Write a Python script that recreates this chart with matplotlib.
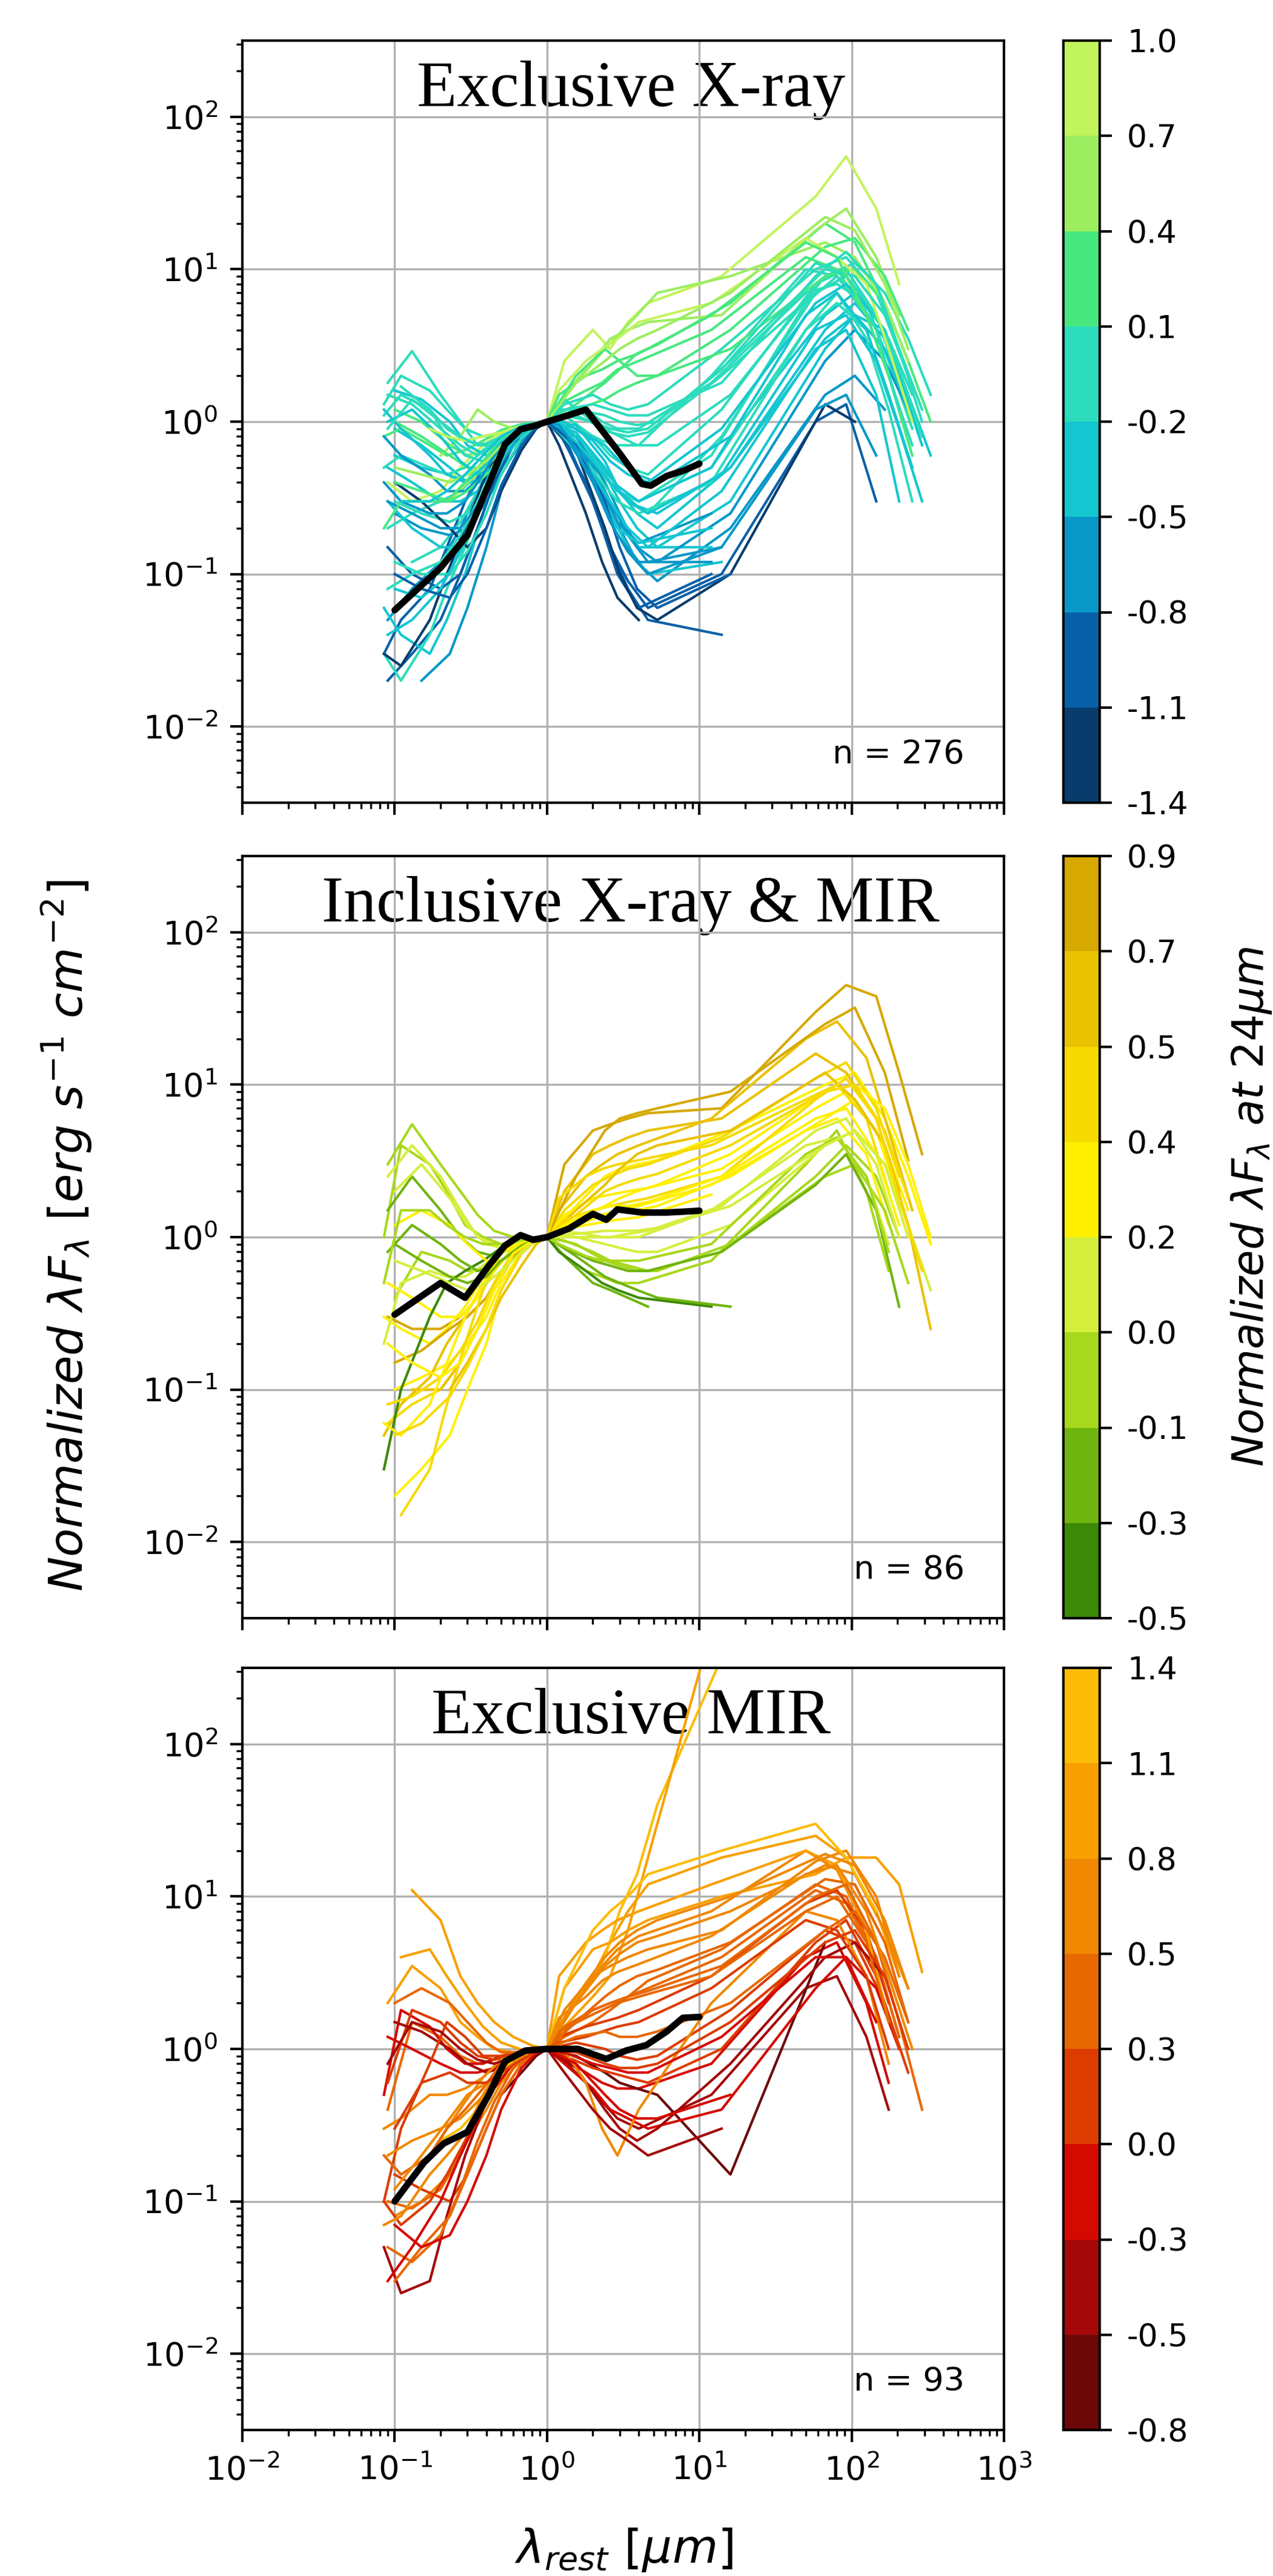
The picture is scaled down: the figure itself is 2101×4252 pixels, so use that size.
import numpy as np
import matplotlib
matplotlib.use("Agg")
import matplotlib.pyplot as plt
from matplotlib.colors import ListedColormap, BoundaryNorm
from matplotlib.cm import ScalarMappable

# rest-frame wavelength grids [um] (three typical redshifts)
lam_a = [0.09, 0.13, 0.2, 0.27, 0.35, 0.45, 0.6, 0.8, 1.0, 1.3, 2.0, 2.6, 3.4, 4.6, 14, 58, 92, 145, 205, 290]
lam_b = [0.1, 0.15, 0.23, 0.3, 0.4, 0.5, 0.68, 0.85, 1.0, 1.55, 2.4, 3.0, 3.9, 5.3, 16, 67, 105, 165, 235, 330]
lam_c = [0.085, 0.11, 0.17, 0.22, 0.29, 0.38, 0.5, 0.7, 1.0, 1.2, 1.8, 2.3, 2.9, 4.0, 12, 50, 80, 125, 175, 250]
grids = {"a": lam_a, "b": lam_b, "c": lam_c}

# (colour value, grid, first index, normalised fluxes)
xray_seds = [
    (-0.05, "a", 0, [1.8, 2.9, 1.5, 1.0, 0.7, 0.75, 0.85, 0.95, 1.0, 1.1, 0.8, 0.6, 0.5, 0.45, 1.2, 8, 10, 5, 2, 0.8]),
    (-0.35, "b", 0, [0.6, 0.5, 0.45, 0.4, 0.42, 0.55, 0.8, 0.95, 1.0, 0.95, 0.55, 0.35, 0.25, 0.2, 0.5, 4, 6, 3.5, 1.5, 0.6]),
    (-0.65, "a", 0, [0.05, 0.08, 0.12, 0.2, 0.35, 0.55, 0.8, 0.95, 1.0, 0.9, 0.5, 0.3, 0.18, 0.12, 0.15]),
    (-0.95, "c", 0, [0.03, 0.05, 0.08, 0.15, 0.3, 0.5, 0.75, 0.92, 1.0, 0.85, 0.4, 0.2, 0.1, 0.06, 0.1]),
    (0.25, "b", 0, [1.2, 1.0, 0.7, 0.6, 0.65, 0.8, 0.9, 0.97, 1.0, 1.3, 1.8, 2.2, 2.8, 3.2, 6, 20, 15, 6, 2.5]),
    (0.85, "a", 0, [0.4, 0.3, 0.35, 0.5, 0.65, 0.8, 0.9, 0.97, 1.0, 2.5, 4, 3, 4.5, 6, 9, 30, 55, 25, 8]),
    (-0.05, "c", 0, [1.3, 2.0, 1.6, 1.2, 0.9, 0.8, 0.85, 0.95, 1.0, 0.9, 0.6, 0.45, 0.35, 0.3, 0.6, 6, 9, 6, 2.5, 0.9]),
    (-0.05, "b", 0, [0.3, 0.25, 0.22, 0.25, 0.35, 0.55, 0.8, 0.95, 1.0, 1.1, 0.9, 0.8, 0.7, 0.7, 1.5, 9, 11, 7, 3.5, 1.5]),
    (-0.95, "a", 0, [0.02, 0.03, 0.05, 0.1, 0.2, 0.4, 0.7, 0.9, 1.0, 0.75, 0.3, 0.15, 0.08, 0.05, 0.04]),
    (-0.35, "b", 0, [0.9, 0.7, 0.5, 0.4, 0.4, 0.5, 0.7, 0.9, 1.0, 0.8, 0.45, 0.3, 0.2, 0.15, 0.3, 3, 5, 4, 1.5]),
    (-0.05, "c", 0, [0.5, 0.6, 0.5, 0.45, 0.5, 0.65, 0.8, 0.95, 1.0, 1.0, 0.85, 0.75, 0.7, 0.7, 2, 10, 9, 5, 2, 0.7]),
    (-0.05, "a", 1, [0.12, 0.15, 0.22, 0.35, 0.5, 0.75, 0.93, 1.0, 0.95, 0.6, 0.4, 0.3, 0.25, 0.8, 7, 9, 5, 1.8]),
    (0.25, "c", 0, [0.8, 0.9, 0.7, 0.6, 0.65, 0.75, 0.88, 0.97, 1.0, 1.3, 1.6, 1.8, 2.2, 2.5, 4, 12, 10, 5, 2, 0.6]),
    (-0.65, "b", 0, [0.25, 0.2, 0.18, 0.2, 0.3, 0.45, 0.75, 0.93, 1.0, 0.7, 0.35, 0.2, 0.12, 0.09, 0.2, 1.5, 2, 1.2]),
    (-0.35, "c", 0, [0.06, 0.04, 0.03, 0.05, 0.1, 0.25, 0.55, 0.88, 1.0, 0.9, 0.55, 0.35, 0.22, 0.15, 0.15]),
    (-0.35, "b", 0, [1.6, 1.4, 1.0, 0.7, 0.6, 0.65, 0.8, 0.95, 1.0, 0.9, 0.7, 0.55, 0.45, 0.4, 0.8, 5, 7, 4, 1.5]),
    (-0.05, "a", 0, [0.2, 0.25, 0.3, 0.35, 0.45, 0.6, 0.8, 0.95, 1.0, 1.3, 1.5, 1.3, 1.2, 1.3, 3, 10, 12, 7, 3, 1.0]),
    (-0.35, "a", 0, [0.5, 0.4, 0.3, 0.3, 0.35, 0.5, 0.75, 0.93, 1.0, 0.85, 0.45, 0.25, 0.15, 0.1, 0.12]),
    (0.55, "a", 2, [0.6, 0.8, 1.2, 1.0, 0.9, 0.95, 1.0, 1.5, 2.5, 3.5, 4.0, 4.5, 5, 18, 25, 12, 5]),
    (-0.05, "c", 0, [0.03, 0.02, 0.04, 0.08, 0.15, 0.3, 0.6, 0.9, 1.0, 0.95, 0.6, 0.45, 0.35, 0.3, 0.5, 4, 6, 4, 1.5, 0.5]),
    (0.25, "b", 0, [1.0, 0.8, 0.6, 0.5, 0.5, 0.6, 0.8, 0.95, 1.0, 1.2, 1.4, 1.6, 1.8, 2.0, 3, 9, 10, 6, 2.5, 1.0]),
    (-1.25, "c", 0, [0.03, 0.025, 0.05, 0.1, 0.2, 0.4, 0.7, 0.9, 1.0, 0.7, 0.25, 0.12, 0.07, 0.05]),
    (-0.65, "b", 1, [0.02, 0.03, 0.06, 0.15, 0.35, 0.7, 0.92, 1.0, 0.8, 0.4, 0.25, 0.15, 0.12, 0.25, 2.5, 4, 2.5, 1.2]),
    (-0.05, "c", 0, [1.1, 1.5, 1.2, 0.9, 0.75, 0.7, 0.8, 0.95, 1.0, 1.2, 1.2, 1.0, 0.9, 0.9, 1.8, 7, 8, 6, 3.5, 1.5]),
    (-0.35, "a", 0, [0.3, 0.2, 0.15, 0.15, 0.25, 0.45, 0.75, 0.93, 1.0, 1.0, 0.75, 0.55, 0.45, 0.4, 0.9, 6, 8, 5, 2, 0.7]),
    (0.55, "b", 2, [0.3, 0.4, 0.5, 0.65, 0.85, 0.96, 1.0, 1.8, 3.0, 3.8, 5, 7, 9, 15, 12, 6, 2.5]),
    (-0.95, "a", 0, [0.15, 0.1, 0.08, 0.1, 0.2, 0.4, 0.7, 0.92, 1.0, 0.8, 0.3, 0.15, 0.09, 0.06, 0.1, 1, 1.3, 0.3]),
    (-0.35, "b", 0, [0.08, 0.07, 0.1, 0.2, 0.35, 0.55, 0.8, 0.95, 1.0, 0.85, 0.5, 0.35, 0.28, 0.25, 0.5, 3.5, 5, 3, 1.2]),
    (-0.05, "a", 0, [1.5, 1.3, 0.9, 0.7, 0.6, 0.7, 0.85, 0.96, 1.0, 1.4, 1.0, 0.85, 0.8, 0.85, 2.0, 7, 9, 5, 2.2, 0.8]),
    (-0.65, "c", 0, [0.8, 0.6, 0.45, 0.35, 0.35, 0.45, 0.7, 0.92, 1.0, 1.0, 0.6, 0.35, 0.22, 0.16, 0.25]),
    (-1.25, "b", 0, [0.4, 0.3, 0.2, 0.15, 0.2, 0.35, 0.65, 0.9, 1.0, 0.65, 0.2, 0.1, 0.06, 0.05, 0.1, 1.3, 1.0]),
    (0.25, "b", 0, [0.4, 0.35, 0.3, 0.35, 0.45, 0.6, 0.8, 0.95, 1.0, 2.0, 3.0, 2.5, 2.0, 2.0, 4, 14, 16, 9, 4]),
    (-0.05, "c", 1, [1.7, 1.2, 0.8, 0.6, 0.55, 0.7, 0.92, 1.0, 0.85, 0.55, 0.4, 0.3, 0.25, 0.4, 4, 7, 3.5, 1.2, 0.3]),
    (-0.05, "a", 0, [0.08, 0.1, 0.12, 0.18, 0.3, 0.5, 0.8, 0.95, 1.0, 1.1, 1.0, 0.9, 0.85, 0.9, 2.2, 11, 9, 4, 1.2]),
    (-0.35, "a", 0, [1.0, 1.2, 0.8, 0.55, 0.45, 0.5, 0.75, 0.93, 1.0, 0.8, 0.45, 0.3, 0.2, 0.15, 0.35, 3, 4, 1.5, 0.3]),
    (0.85, "c", 2, [0.9, 0.8, 0.75, 0.8, 0.85, 0.95, 1.0, 1.6, 2.5, 3, 3.5, 4.5, 6, 16, 12, 8, 3, 1]),
    (-0.35, "c", 0, [1.2, 0.9, 0.6, 0.45, 0.4, 0.5, 0.75, 0.93, 1.0, 0.9, 0.5, 0.3, 0.2, 0.16, 0.2]),
    (-0.65, "a", 0, [0.3, 0.25, 0.2, 0.2, 0.28, 0.45, 0.72, 0.92, 1.0, 0.85, 0.4, 0.22, 0.14, 0.1, 0.15, 1.2, 1.5, 0.6]),
    (-0.05, "b", 0, [0.12, 0.1, 0.1, 0.14, 0.25, 0.45, 0.78, 0.95, 1.0, 1.2, 1.1, 1.0, 0.95, 1.0, 2.5, 10, 9, 5, 2]),
    (0.25, "c", 0, [0.2, 0.3, 0.3, 0.3, 0.4, 0.55, 0.78, 0.95, 1.0, 1.5, 2.0, 2.2, 2.5, 2.8, 5, 15, 12, 5, 2]),
    (-0.35, "a", 0, [0.04, 0.05, 0.08, 0.14, 0.25, 0.45, 0.75, 0.93, 1.0, 0.9, 0.55, 0.4, 0.3, 0.25, 0.45, 4, 5, 2.5, 0.9, 0.3]),
    (-0.95, "b", 0, [0.1, 0.08, 0.07, 0.1, 0.2, 0.38, 0.7, 0.92, 1.0, 0.7, 0.3, 0.15, 0.08, 0.06, 0.1]),
    (-0.05, "a", 0, [0.9, 1.4, 1.0, 0.8, 0.7, 0.7, 0.82, 0.95, 1.0, 1.2, 1.3, 1.2, 1.1, 1.1, 1.8, 9, 13, 8, 3, 1.2]),
    (-0.65, "c", 0, [0.4, 0.3, 0.25, 0.25, 0.3, 0.45, 0.72, 0.92, 1.0, 0.95, 0.55, 0.3, 0.18, 0.12, 0.12]),
    (0.55, "b", 0, [0.5, 0.45, 0.4, 0.45, 0.55, 0.7, 0.86, 0.96, 1.0, 1.8, 2.5, 3, 3.5, 4, 7, 22, 18, 8, 3]),
    (-0.35, "c", 1, [0.3, 0.3, 0.35, 0.45, 0.6, 0.8, 0.95, 1.0, 1.0, 0.7, 0.5, 0.38, 0.3, 0.5, 5, 7, 4, 1.5, 0.5]),
]

both_seds = [
    (-0.06, "a", 0, [3, 5.5, 3, 2, 1.4, 1.1, 1.0, 1.0, 1.0, 0.95, 0.8, 0.7, 0.65, 0.6, 0.8, 2.5, 4, 2.5, 1.0]),
    (0.29, "b", 0, [0.1, 0.12, 0.15, 0.2, 0.3, 0.5, 0.8, 0.95, 1.0, 1.6, 2.5, 2.8, 3.0, 3.2, 5, 10, 12, 6, 2.5, 0.9]),
    (0.81, "a", 0, [0.3, 0.25, 0.25, 0.3, 0.4, 0.6, 0.85, 0.96, 1.0, 3, 5, 5.5, 6, 6.5, 7, 30, 45, 38, 12, 3.5]),
    (-0.06, "c", 0, [1.0, 4, 3, 2, 1.2, 1.0, 0.9, 0.95, 1.0, 0.8, 0.6, 0.55, 0.5, 0.5, 0.7, 3, 5, 2, 0.6]),
    (0.29, "b", 0, [0.02, 0.03, 0.05, 0.1, 0.2, 0.45, 0.8, 0.95, 1.0, 1.2, 1.4, 1.5, 1.5, 1.6, 2.5, 6, 8, 4, 1.5]),
    (-0.24, "a", 0, [1.5, 2.5, 1.5, 1.0, 0.8, 0.75, 0.85, 0.95, 1.0, 0.75, 0.5, 0.45, 0.4, 0.35]),
    (0.64, "c", 0, [0.05, 0.08, 0.12, 0.2, 0.3, 0.5, 0.8, 0.95, 1.0, 1.5, 2.5, 3, 3.5, 4, 6, 20, 26, 15, 5, 1.5]),
    (0.11, "b", 0, [2, 3, 1.8, 1.2, 0.9, 0.85, 0.9, 0.97, 1.0, 1.0, 0.9, 0.85, 0.8, 0.8, 1.2, 4, 5, 3, 1.2, 0.45]),
    (0.46, "a", 0, [0.06, 0.08, 0.1, 0.15, 0.25, 0.45, 0.78, 0.95, 1.0, 1.5, 2.2, 2.5, 2.8, 3.0, 4.5, 11, 14, 7, 2.5]),
    (0.29, "c", 0, [0.3, 0.25, 0.2, 0.25, 0.35, 0.55, 0.8, 0.95, 1.0, 1.1, 1.3, 1.4, 1.5, 1.6, 2.2, 5, 6, 3.5, 1.2]),
    (-0.06, "b", 0, [0.4, 0.8, 0.7, 0.6, 0.6, 0.7, 0.85, 0.95, 1.0, 0.9, 0.7, 0.65, 0.6, 0.6, 0.9, 2.5, 3, 1.5, 0.5]),
    (0.64, "a", 1, [0.1, 0.1, 0.15, 0.25, 0.45, 0.75, 0.94, 1.0, 2.0, 3.5, 4, 4.5, 5, 6, 16, 12, 6, 2]),
    (0.29, "a", 0, [0.5, 0.4, 0.3, 0.3, 0.4, 0.6, 0.85, 0.96, 1.0, 1.4, 1.8, 1.9, 2.0, 2.1, 2.8, 7, 9, 5, 1.8]),
    (0.11, "c", 0, [0.2, 0.5, 0.6, 0.55, 0.55, 0.65, 0.82, 0.95, 1.0, 1.1, 1.05, 1.0, 1.0, 1.0, 1.5, 4, 4.5, 2.5, 0.9]),
    (0.81, "b", 0, [0.15, 0.18, 0.25, 0.3, 0.4, 0.6, 0.85, 0.96, 1.0, 2.5, 5, 6, 6.5, 7, 9, 25, 32, 12, 3.2]),
    (-0.41, "c", 0, [0.03, 0.1, 0.3, 0.5, 0.6, 0.7, 0.85, 0.95, 1.0, 0.8, 0.6, 0.5, 0.45, 0.4, 0.35]),
    (0.46, "c", 1, [0.015, 0.03, 0.08, 0.2, 0.45, 0.8, 0.95, 1.0, 1.8, 2.5, 2.8, 3, 3.2, 4, 8, 10, 6, 2]),
    (0.29, "b", 0, [1.2, 1.5, 1.2, 0.9, 0.7, 0.7, 0.85, 0.96, 1.0, 1.3, 1.6, 1.8, 2.0, 2.2, 3.5, 9, 10, 7, 3, 1]),
    (-0.24, "a", 0, [0.8, 1.2, 0.9, 0.7, 0.6, 0.65, 0.8, 0.95, 1.0, 0.85, 0.7, 0.65, 0.6, 0.6, 0.8, 2.2, 3.5, 1.5, 0.35]),
    (0.64, "b", 2, [0.1, 0.15, 0.25, 0.4, 0.65, 0.9, 1.0, 1.5, 2.2, 2.8, 3.5, 4, 5, 12, 8, 4, 1.2, 0.25]),
    (0.11, "a", 0, [2.5, 4, 2.5, 1.5, 1.0, 0.9, 0.9, 0.97, 1.0, 1.0, 1.0, 1.0, 1.05, 1.1, 1.6, 5, 6, 3, 1.0]),
    (0.46, "a", 0, [0.08, 0.09, 0.12, 0.18, 0.28, 0.5, 0.8, 0.95, 1.0, 1.3, 1.5, 1.6, 1.7, 1.8, 2.5, 8, 11, 6, 1.8, 0.6]),
    (0.29, "c", 0, [0.06, 0.05, 0.08, 0.15, 0.3, 0.5, 0.78, 0.94, 1.0, 1.1, 1.2, 1.25, 1.3, 1.35, 1.9]),
    (-0.24, "b", 0, [0.9, 0.7, 0.55, 0.5, 0.55, 0.7, 0.88, 0.97, 1.0, 0.75, 0.55, 0.5, 0.45, 0.4, 0.35]),
    (0.46, "b", 0, [0.05, 0.06, 0.09, 0.14, 0.25, 0.45, 0.78, 0.95, 1.0, 1.4, 2.0, 2.2, 2.4, 2.6, 4, 9, 10, 5, 1.8]),
    (-0.06, "c", 0, [0.5, 1.5, 1.5, 1.2, 1.0, 0.9, 0.9, 0.96, 1.0, 0.9, 0.75, 0.7, 0.7, 0.7, 0.9, 3.5, 4.5, 2.5, 0.8]),
    (0.29, "a", 0, [0.2, 0.15, 0.12, 0.15, 0.25, 0.45, 0.78, 0.95, 1.0, 1.2, 1.5, 1.6, 1.6, 1.7, 2.5, 6, 7, 3.5, 1.2]),
    (0.11, "b", 0, [0.7, 0.6, 0.5, 0.45, 0.5, 0.6, 0.8, 0.95, 1.0, 1.05, 1.1, 1.1, 1.1, 1.15, 1.6, 4, 5, 3, 1]),
]

mir_seds = [
    (0.99, "a", 1, [11, 7, 3, 2, 1.5, 1.2, 1.05, 1.0, 1.6, 3, 5, 8, 12, 18, 25, 18, 8, 3]),
    (1.26, "b", 8, [1.0, 2, 4, 8, 14, 40, 500]),
    (0.99, "a", 8, [1.0, 1.4, 2.2, 3, 6, 18, 1000]),
    (0.44, "a", 0, [0.4, 1.5, 1.2, 0.9, 0.8, 0.85, 0.92, 0.97, 1.0, 1.2, 1.5, 1.8, 2.2, 2.8, 4.5, 12, 10, 4, 1.2]),
    (-0.11, "c", 0, [0.5, 1.8, 1.4, 1.0, 0.8, 0.8, 0.9, 0.97, 1.0, 0.9, 0.7, 0.6, 0.55, 0.55, 0.8, 4, 5, 2, 0.6]),
    (0.71, "b", 0, [0.08, 0.1, 0.15, 0.25, 0.4, 0.6, 0.85, 0.96, 1.0, 2.0, 3.5, 4.2, 5, 5.5, 8, 16, 14, 6, 2.5]),
    (0.44, "a", 0, [0.1, 0.09, 0.12, 0.2, 0.35, 0.55, 0.82, 0.95, 1.0, 1.4, 1.8, 2.0, 2.2, 2.5, 4, 11, 9, 4, 1.2]),
    (0.16, "b", 0, [0.15, 0.12, 0.1, 0.15, 0.3, 0.5, 0.8, 0.95, 1.0, 1.1, 1.0, 0.9, 0.85, 0.9, 1.8, 6, 5, 2, 0.7]),
    (-0.39, "c", 0, [0.05, 0.025, 0.03, 0.08, 0.2, 0.4, 0.7, 0.92, 1.0, 0.9, 0.6, 0.45, 0.35, 0.3, 0.5, 2.5, 3, 1.2, 0.4]),
    (0.99, "a", 0, [2.0, 3.5, 2.5, 1.5, 1.2, 1.0, 0.95, 0.98, 1.0, 2.5, 4.5, 5, 6, 7, 10, 14, 18, 18, 12, 3.2]),
    (-0.66, "b", 5, [0.5, 0.7, 0.9, 1.0, 0.9, 0.7, 0.6, 0.55, 0.5, 0.15, 5]),
    (0.16, "c", 0, [0.1, 0.07, 0.1, 0.15, 0.25, 0.45, 0.75, 0.94, 1.0, 1.2, 1.4, 1.5, 1.6, 1.8, 3, 9, 11, 6, 2]),
    (-0.11, "a", 0, [1.2, 1.0, 0.8, 0.7, 0.7, 0.75, 0.88, 0.96, 1.0, 0.8, 0.55, 0.4, 0.35, 0.3, 0.4, 2.5, 4, 2.5, 1]),
    (0.71, "c", 2, [0.2, 0.3, 0.45, 0.65, 0.85, 0.95, 1.0, 1.4, 2.5, 3.5, 4.5, 5.5, 8, 20, 15, 6, 1.5]),
    (0.44, "b", 0, [0.03, 0.05, 0.08, 0.15, 0.3, 0.5, 0.8, 0.95, 1.0, 1.5, 2.2, 2.6, 3.0, 3.3, 5, 13, 12, 5, 1.5]),
    (0.16, "a", 0, [0.6, 1.8, 1.5, 1.1, 0.9, 0.85, 0.9, 0.97, 1.0, 0.9, 0.75, 0.7, 0.65, 0.6, 1.0, 5, 7, 3, 1]),
    (0.99, "c", 1, [4, 4.5, 3, 2, 1.4, 1.1, 0.98, 1.0, 3, 5, 6, 7, 8, 12, 20, 16, 6, 1.5]),
    (-0.39, "b", 0, [1.5, 1.3, 1.0, 0.8, 0.7, 0.75, 0.88, 0.96, 1.0, 0.75, 0.4, 0.3, 0.25, 0.3, 0.8, 4, 5, 3]),
    (0.44, "a", 0, [0.05, 0.04, 0.06, 0.12, 0.25, 0.45, 0.75, 0.94, 1.0, 1.3, 1.8, 2.0, 2.2, 2.4, 3.5, 10, 12, 5, 1.5, 0.4]),
    (0.71, "c", 0, [0.3, 0.35, 0.5, 0.5, 0.55, 0.65, 0.85, 0.96, 1.0, 1.1, 0.6, 0.3, 0.2, 0.4, 2, 8, 7, 3, 0.8]),
    (0.16, "c", 0, [0.1, 0.3, 0.8, 1.5, 1.2, 0.9, 0.9, 0.96, 1.0, 1.1, 1.2, 1.3, 1.4, 1.5, 2.5, 7, 6, 3, 1]),
    (-0.11, "b", 0, [0.07, 0.05, 0.06, 0.1, 0.2, 0.4, 0.75, 0.94, 1.0, 0.8, 0.5, 0.4, 0.35, 0.35, 0.5]),
    (0.71, "a", 0, [0.2, 0.25, 0.3, 0.35, 0.45, 0.6, 0.85, 0.96, 1.0, 1.8, 3, 3.5, 4, 4.5, 6, 17, 20, 10, 3]),
    (1.26, "a", 2, [0.25, 0.3, 0.4, 0.6, 0.85, 0.95, 1.0, 2.5, 6, 8, 10, 14, 20, 30, 18, 8]),
    (-0.39, "a", 0, [0.8, 1.5, 1.3, 1.0, 0.85, 0.8, 0.88, 0.96, 1.0, 0.7, 0.4, 0.3, 0.25, 0.2, 0.3]),
    (0.44, "b", 0, [2.0, 2.5, 2.0, 1.5, 1.1, 0.95, 0.95, 0.98, 1.0, 1.2, 1.3, 1.2, 1.2, 1.3, 2.0, 6, 8, 4, 1.5]),
    (0.71, "c", 0, [0.07, 0.08, 0.15, 0.2, 0.28, 0.5, 0.8, 0.95, 1.0, 1.6, 2.2, 2.8, 3.2, 3.6, 5.5, 14, 16, 8, 3, 1.0]),
    (0.44, "c", 0, [0.2, 0.15, 0.2, 0.3, 0.4, 0.55, 0.8, 0.95, 1.0, 1.3, 1.6, 1.8, 2.0, 2.2, 3, 8, 10, 5, 1.5]),
    (-0.11, "a", 0, [0.03, 0.05, 0.1, 0.2, 0.35, 0.55, 0.8, 0.95, 1.0, 0.95, 0.8, 0.75, 0.7, 0.7, 1.2, 4, 4, 1.5]),
    (0.71, "b", 0, [0.12, 0.2, 0.35, 0.5, 0.6, 0.7, 0.88, 0.97, 1.0, 2.2, 4, 5, 6, 7, 10, 19, 16, 7, 2.5]),
    (0.16, "b", 0, [0.3, 0.6, 0.7, 0.6, 0.6, 0.7, 0.85, 0.96, 1.0, 0.95, 0.8, 0.75, 0.75, 0.8, 1.5, 5, 6, 3, 1]),
]

# median SEDs (black)
med_xray_lam = [0.1, 0.2, 0.3, 0.42, 0.53, 0.67, 0.86, 1.0, 1.3, 1.8, 3.0, 4.2, 4.8, 6.1, 8.0, 10.0]
med_xray_flux = [0.058, 0.11, 0.18, 0.4, 0.71, 0.89, 0.95, 1.0, 1.08, 1.2, 0.62, 0.39, 0.38, 0.44, 0.48, 0.53]
med_both_lam = [0.1, 0.2, 0.29, 0.41, 0.53, 0.67, 0.81, 1.0, 1.4, 2.0, 2.45, 2.9, 4.2, 6.1, 8.0, 10.0]
med_both_flux = [0.31, 0.5, 0.40, 0.64, 0.88, 1.03, 0.96, 1.0, 1.14, 1.42, 1.3, 1.52, 1.45, 1.45, 1.47, 1.49]
med_mir_lam = [0.1, 0.156, 0.21, 0.3, 0.41, 0.53, 0.72, 1.0, 1.6, 2.45, 3.3, 4.5, 6.1, 7.8, 10.0]
med_mir_flux = [0.1, 0.18, 0.24, 0.285, 0.49, 0.83, 0.975, 1.0, 1.0, 0.86, 0.975, 1.06, 1.3, 1.6, 1.62]

# discrete colour bars (bottom -> top)
xray_colors = ["#083c6c", "#0860a8", "#0898c8", "#14c6d0", "#2cdcbc", "#48e880", "#9cee60", "#c2f45c"]
both_colors = ["#3c8a08", "#70b410", "#a8d81c", "#d6ee3c", "#fff000", "#f6da00", "#eac200", "#d6a800"]
mir_colors = ["#6c0808", "#a40808", "#d40a00", "#dc3c00", "#e86800", "#f08800", "#f8a000", "#fcbc08"]
xray_range = (-1.4, 1.0)
both_range = (-0.5, 0.9)
mir_range = (-0.8, 1.4)
xray_ticklabels = ["-1.4", "-1.1", "-0.8", "-0.5", "-0.2", "0.1", "0.4", "0.7", "1.0"]
both_ticklabels = ["-0.5", "-0.3", "-0.1", "0.0", "0.2", "0.4", "0.5", "0.7", "0.9"]
mir_ticklabels = ["-0.8", "-0.5", "-0.3", "0.0", "0.3", "0.5", "0.8", "1.1", "1.4"]

titles = ["Exclusive X-ray", "Inclusive X-ray & MIR", "Exclusive MIR"]
counts = [276, 86, 93]

W, H = 2101, 4252
fig = plt.figure(figsize=(W / 300, H / 300), dpi=300)

panels = [
    (xray_seds, med_xray_lam, med_xray_flux, xray_colors, xray_range, xray_ticklabels),
    (both_seds, med_both_lam, med_both_flux, both_colors, both_range, both_ticklabels),
    (mir_seds, med_mir_lam, med_mir_flux, mir_colors, mir_range, mir_ticklabels),
]
tops = [67, 1413, 2753]
ax_h = 1258

for i, (seds, mlam, mflux, cols, crange, clabels) in enumerate(panels):
    y0 = 1 - (tops[i] + ax_h) / H
    ax = fig.add_axes([400 / W, y0, 1257 / W, ax_h / H])
    cax = fig.add_axes([1755 / W, y0, 60 / W, ax_h / H])

    bounds = np.linspace(crange[0], crange[1], len(cols) + 1)
    cmap = ListedColormap(cols)
    norm = BoundaryNorm(bounds, cmap.N)

    for c, g, s, flux in seds:
        lam = grids[g][s:s + len(flux)]
        ax.plot(lam, flux, color=cmap(norm(c)), lw=1.0, zorder=2)
    ax.plot(mlam, mflux, color="k", lw=2.6, zorder=4, solid_capstyle="round")

    ax.set_xscale("log")
    ax.set_yscale("log")
    ax.set_xlim(1e-2, 1e3)
    ax.set_ylim(10 ** -2.5, 10 ** 2.5)
    ax.set_yticks([1e-2, 1e-1, 1e0, 1e1, 1e2])
    ax.set_xticks([1e-2, 1e-1, 1e0, 1e1, 1e2, 1e3])
    ax.grid(True, which="major", color="#b0b0b0", lw=0.8, zorder=0)
    ax.tick_params(which="major", length=4.8, width=1.0, labelsize=13, pad=5)
    ax.tick_params(which="minor", length=2.4, width=0.8)
    for sp in ax.spines.values():
        sp.set_linewidth(1.0)
    if i < 2:
        ax.tick_params(axis="x", labelbottom=False)

    ax.text(0.51, 0.914, titles[i], transform=ax.transAxes, ha="center",
            va="baseline", fontsize=26, family="Liberation Serif", zorder=1.5)
    ax.text(0.948, 0.052, "n = %d" % counts[i], transform=ax.transAxes,
            ha="right", va="baseline", fontsize=13)

    cb = fig.colorbar(ScalarMappable(norm=norm, cmap=cmap), cax=cax, ticks=bounds)
    cb.ax.set_yticklabels(clabels)
    cb.outline.set_linewidth(1.0)
    cax.tick_params(length=4.8, width=1.0, pad=6, labelsize=12.5)

fig.text(110 / W, 1 - 2040 / H, r"$Normalized\ \lambda F_\lambda\ [erg\ s^{-1}\ cm^{-2}]$",
         rotation=90, ha="center", va="center", fontsize=18.5)
fig.text(2066 / W, 1 - 1992 / H, r"$Normalized\ \lambda F_\lambda\ at\ 24\mu m$",
         rotation=90, ha="center", va="center", fontsize=17)
fig.text(1029 / W, 22 / H, r"$\lambda_{rest}\ [\mu m]$", ha="center", va="baseline", fontsize=18.5)

fig.savefig("out.png", dpi=300, facecolor="white")
